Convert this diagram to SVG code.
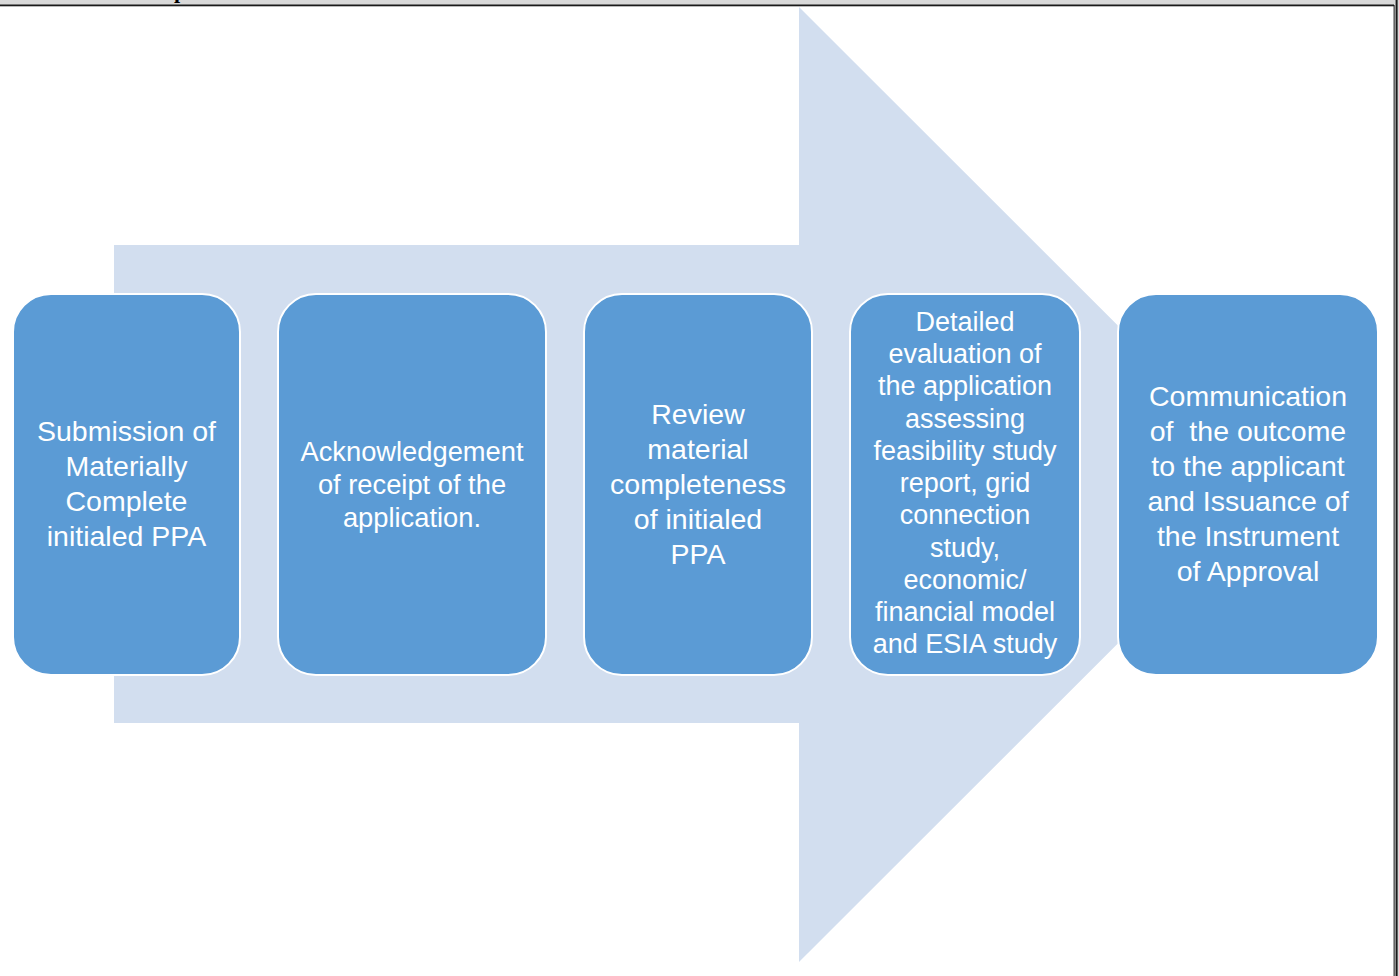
<svg xmlns="http://www.w3.org/2000/svg" width="1399" height="976" viewBox="0 0 1399 976">
  <style>
    .step rect { fill: #5B9BD5; stroke: #FFFFFF; stroke-width: 2; }
    .step text { fill: #FFFFFF; font-family: "Liberation Sans", Arial, sans-serif; text-anchor: middle; }
    .frame-fill { fill: #D9D9D9; }
    .frame-line { fill: #1A1A1A; }
  </style>

  <!-- page background -->
  <rect x="0" y="0" width="1399" height="976" fill="#FFFFFF"/>

  <!-- table frame: top and right borders -->
  <g id="frame">
    <rect class="frame-fill" x="0" y="0" width="1399" height="5"/>
    <text x="180" y="-2" font-family="'Liberation Serif', 'Times New Roman', serif" font-weight="bold" font-size="22" text-anchor="middle" fill="#000000">p</text>
    <rect class="frame-line" x="0" y="4.5" width="1396" height="1.8"/>
    <rect class="frame-fill" x="1394" y="0" width="5" height="976"/>
    <rect class="frame-line" x="1393.6" y="5" width="1" height="971"/>
    <rect class="frame-line" x="1395.6" y="0" width="2" height="976"/>
  </g>

  <!-- background process arrow -->
  <g id="connectors">
    <polygon points="114,245 799,245 799,7 1277,484.5 799,962 799,723 114,723" fill="#D2DEEF"/>
  </g>

  <!-- tspans are written back to back so no stray spaces shift the centring -->
  <g id="step1" class="step">
    <rect x="13" y="294" width="227" height="381" rx="38" ry="38"/>
    <text font-size="28.5"><tspan x="126.5" y="441">Submission of</tspan><tspan x="126.5" y="476">Materially</tspan><tspan x="126.5" y="511">Complete</tspan><tspan x="126.5" y="546">initialed PPA</tspan></text>
  </g>

  <g id="step2" class="step">
    <rect x="278" y="294" width="268" height="381" rx="38" ry="38"/>
    <text font-size="27.3"><tspan x="412" y="461">Acknowledgement</tspan><tspan x="412" y="494">of receipt of the</tspan><tspan x="412" y="527">application.</tspan></text>
  </g>

  <g id="step3" class="step">
    <rect x="584" y="294" width="228" height="381" rx="38" ry="38"/>
    <text font-size="28.5"><tspan x="698" y="424">Review</tspan><tspan x="698" y="459">material</tspan><tspan x="698" y="494">completeness</tspan><tspan x="698" y="529">of initialed</tspan><tspan x="698" y="564">PPA</tspan></text>
  </g>

  <g id="step4" class="step">
    <rect x="850" y="294" width="230" height="381" rx="38" ry="38"/>
    <text font-size="27"><tspan x="965" y="331">Detailed</tspan><tspan x="965" y="363">evaluation of</tspan><tspan x="965" y="395">the application</tspan><tspan x="965" y="427.5">assessing</tspan><tspan x="965" y="460">feasibility study</tspan><tspan x="965" y="492">report, grid</tspan><tspan x="965" y="524">connection</tspan><tspan x="965" y="556.5">study,</tspan><tspan x="965" y="589">economic/</tspan><tspan x="965" y="621">financial model</tspan><tspan x="965" y="653">and ESIA study</tspan></text>
  </g>

  <g id="step5" class="step">
    <rect x="1118" y="294" width="260" height="381" rx="38" ry="38"/>
    <text font-size="28.5"><tspan x="1248" y="406">Communication</tspan><tspan x="1248" y="441" xml:space="preserve">of  the outcome</tspan><tspan x="1248" y="476">to the applicant</tspan><tspan x="1248" y="511">and Issuance of</tspan><tspan x="1248" y="546">the Instrument</tspan><tspan x="1248" y="581">of Approval</tspan></text>
  </g>
</svg>
